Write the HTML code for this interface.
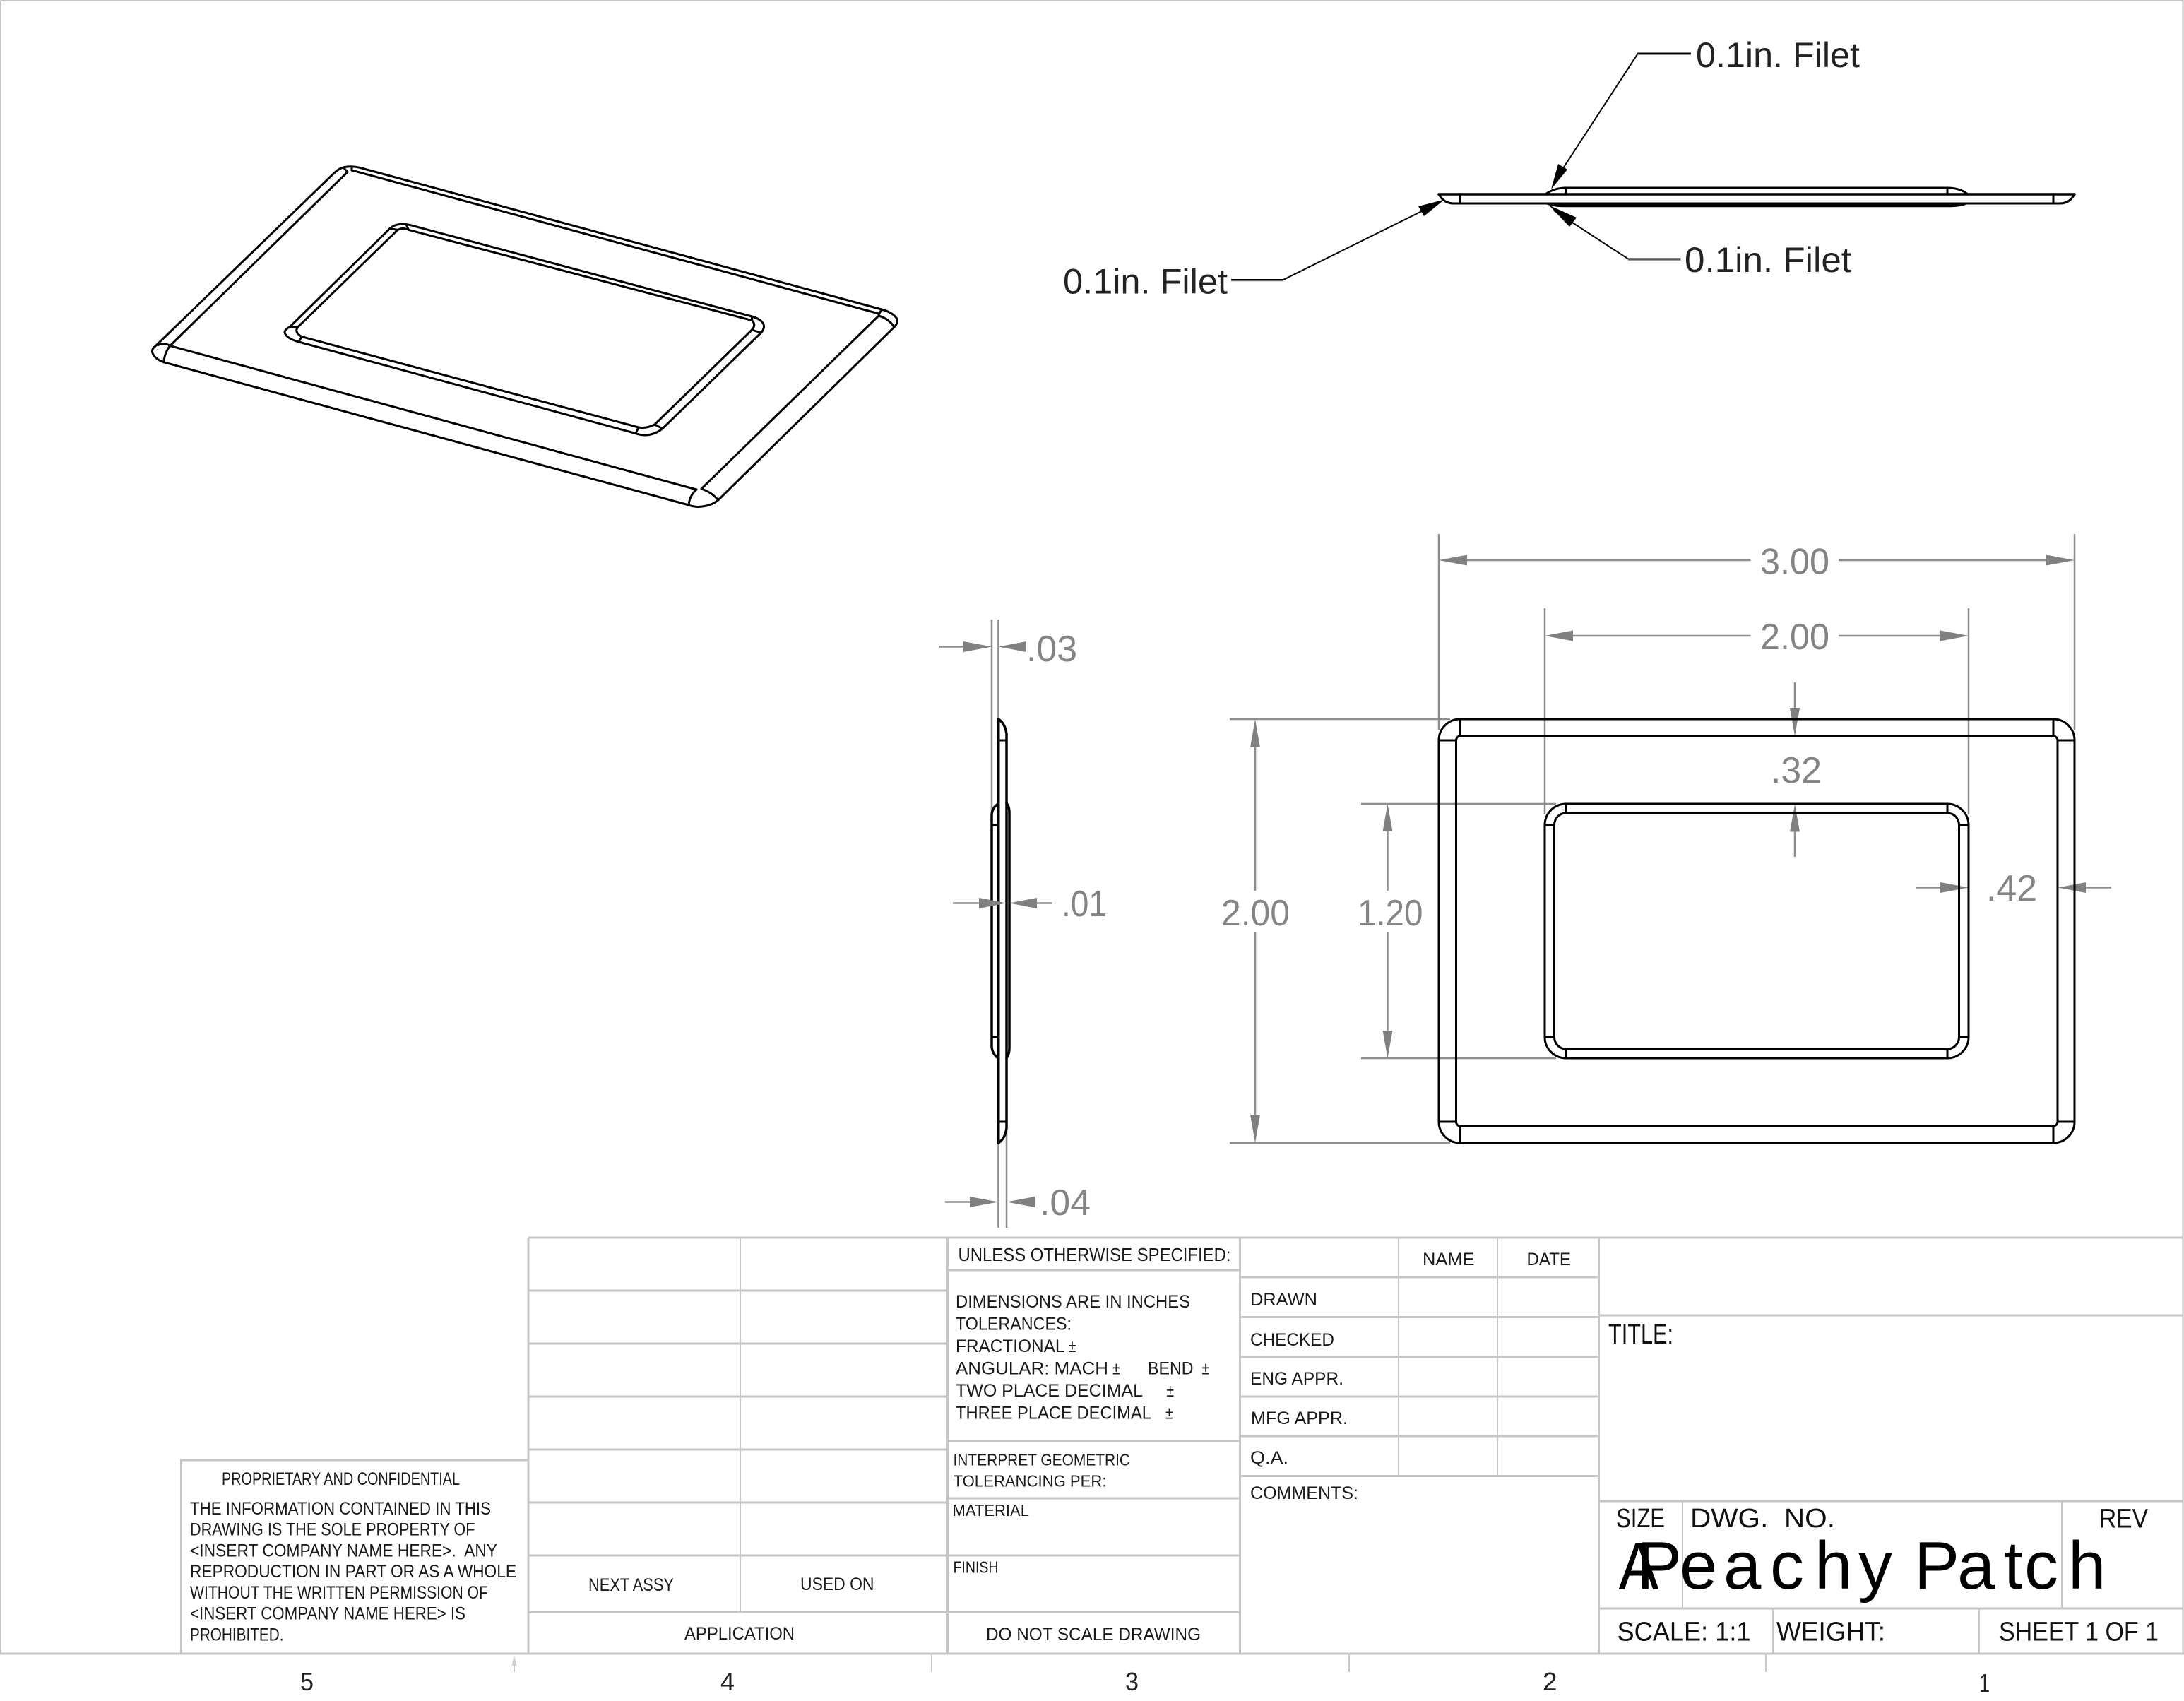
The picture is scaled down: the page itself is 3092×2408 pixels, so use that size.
<!DOCTYPE html>
<html><head><meta charset="utf-8"><title>Peachy Patch</title>
<style>
html,body{margin:0;padding:0;background:#fff}
svg{display:block}
text{font-family:"Liberation Sans",sans-serif}
.g{fill:#848484;font-size:52px}
.l{fill:#222;font-size:50px}
.t{fill:#1a1a1a;font-size:25px}
.m{fill:#111;font-size:38px}
.z{fill:#222;font-size:36px}
.b{stroke:#000;fill:none;stroke-width:3;stroke-linejoin:round;stroke-linecap:round}
.d{stroke:#8e8e8e;fill:none;stroke-width:2.5}
.a{fill:#808080}
.f{stroke:#c6c6c6;fill:none;stroke-width:3}
.f2{stroke:#c6c6c6;fill:none;stroke-width:2}
.k{stroke:#000;fill:none;stroke-width:2}
</style></head><body>
<svg xmlns="http://www.w3.org/2000/svg" width="3092" height="2408" viewBox="0 0 3092 2408">
<rect width="3092" height="2408" fill="#fff"/>

<!-- sheet frame -->
<path class="f2" d="M1,2341V1H3090.5V2341"/>
<path class="f" d="M0,2341H3092"/>
<path class="f2" d="M1319,2341V2367M1910,2341V2367M2500,2341V2367M728,2350V2367"/>
<polygon points="728,2343 724.5,2358 731.5,2358" fill="#cfcfcf"/>

<!-- title block lines -->
<path class="f" d="M748,1752H3090.5M748,1752V2341M1341.5,1752V2341M1755.5,1752V2341M2263.5,1752V2341"/>
<path class="f2" d="M1048,1752V2282M1980,1752V2089M2120,1752V2089"/>
<path class="f" d="M748,1827H1341.5M748,1902H1341.5M748,1977H1341.5M748,2052H1341.5M748,2127H1341.5M748,2202H1341.5M748,2282.5H1755.5"/>
<path class="f" d="M1341.5,1798H1755.5M1341.5,2040H1755.5M1341.5,2121H1755.5M1341.5,2202H1755.5"/>
<path class="f" d="M1755.5,1808H2263.5M1755.5,1864.5H2263.5M1755.5,1921H2263.5M1755.5,1977H2263.5M1755.5,2033H2263.5M1755.5,2089.5H2263.5"/>
<path class="f" d="M2263.5,1862H3090.5M2263.5,2125H3090.5M2263.5,2277H3090.5"/>
<path class="f2" d="M2382,2125V2277M2919,2125V2277M2510,2277V2341M2802,2277V2341"/>
<path class="f" d="M256.5,2341V2067H748"/>

<!-- isometric view -->
<g class="b" style="stroke-width:3">
<path d="M510,237.5L1248,438Q1263,442 1269,450Q1273,456 1266,463L1016.7,708Q1006,717 988,717.5Q980,717 975,715L231.7,512.7Q219,508 216,500Q214,494 220,490L473,245Q480,238 488,236.5Q498,234.5 510,237.5Z"/>
<path d="M240.7,489.5L492,243.5"/>
<path d="M498,241L1244,444"/>
<path d="M240.7,489.5L986,693"/>
<path d="M993,692L1244,447"/>
<path d="M224,488.5Q232,484 240.7,489.5Q233,499 231.7,512.7"/>
<path d="M986,693Q976,702 975,715"/>
<path d="M993,692Q1008,697 1016.7,708"/>
<path d="M1244,447Q1258,451 1266,463"/>
<path d="M1244,446L1248,438"/>
<path d="M487,238L492,243.5M498,236L498,241"/>
<!-- pocket -->
<path d="M586,320L1064.5,448Q1078,452 1081,459Q1083,465 1077.5,471L938,606.7Q928,615 915,616Q906,616 900,613.6L423,484Q409,480 404.5,474Q400,468 410,463L552,323.5Q558,318 566,317.5Q575,316.5 586,320Z"/>
<path d="M421.7,463L563,325.4"/>
<path d="M578.6,325.4L1064.5,453.6"/>
<path d="M427,476.6L904,605"/>
<path d="M926.8,601L1064.5,467"/>
<path d="M563,325.4Q570,321.5 578.6,325.4"/>
<path d="M421.7,463Q416,470 427,476.6"/>
<path d="M904,605Q915,607 926.8,601"/>
<path d="M1064.5,467Q1071,460 1064.5,453.6"/>
<path d="M410,463L421.7,463M423,484L427,476.6M900,613.6L904,605M926.8,601L938,606.7M1064.5,467L1077.5,471M1064.5,448V453.6M552,323.5L563,325.4M575,318L578.6,325.4"/>
</g>

<!-- top view -->
<g class="b">
<path d="M2037,275H2937" style="stroke-width:3.5"/>
<path d="M2037,275Q2044,288 2058,288H2916Q2930,288 2937,275"/>
<path d="M2067,275V288M2907,275V288"/>
<path d="M2188,275Q2200,266 2217,266H2757Q2775,266 2786,275"/>
<path d="M2217,266V275M2757,266V275"/>
</g>
<path d="M2188,288Q2200,292.5 2212,292.5H2762Q2776,292.5 2786,288Z" fill="#000" stroke="#000" stroke-width="1.5"/>

<!-- top-view leaders -->
<path class="k" d="M2394,75.5H2319L2200,258"/>
<polygon points="2196,268 2206,232 2219,240" fill="#000"/>
<path class="k" d="M2379.5,366.5H2305L2200,298"/>
<polygon points="2193,290.5 2232,308 2222,321" fill="#000"/>
<path class="k" d="M1743,396H1817L2035,288"/>
<polygon points="2045,282.5 2016,306 2008,292" fill="#000"/>
<g style="stroke:#777;stroke-width:1.5;fill:none"><path d="M2394,77H2319M2379.5,368H2305M1743,397.5H1817"/></g>
<text class="l" x="2401" y="95" textLength="232" lengthAdjust="spacingAndGlyphs">0.1in. Filet</text>
<text class="l" x="2385" y="385" textLength="236" lengthAdjust="spacingAndGlyphs">0.1in. Filet</text>
<text class="l" x="1505" y="415.5" textLength="233" lengthAdjust="spacingAndGlyphs">0.1in. Filet</text>

<!-- side view -->
<path class="d" d="M1404,877V1150M1413.4,877V1018M1413.4,1618V1738M1425,1600V1738"/>
<g class="b">
<path d="M1413.5,1018Q1423,1024 1425,1039V1597Q1423,1612 1413.5,1618" style="stroke-width:3.5"/>
<path d="M1413.5,1018V1618" style="stroke-width:4"/>
<path d="M1413.5,1048H1425M1413.5,1588H1425M1404,1168H1413.5M1404,1468H1413.5"/>
<path d="M1413,1138Q1405,1143 1404,1153V1482Q1405,1492 1413,1498" style="stroke-width:3.5"/>
<path d="M1425,1137Q1429,1142 1429,1150V1484Q1429,1492 1425,1498" style="stroke-width:3.5"/>
</g>
<path class="d" d="M1329,915.5H1364M1349,1278.5H1386M1468,1278.5H1490M1338,1701.5H1373"/>
<polygon class="a" points="1404,915.5 1364,908 1364,923"/>
<polygon class="a" points="1413.5,915.5 1453,908 1453,923"/>
<polygon class="a" points="1425,1278.5 1386,1271 1386,1286"/>
<polygon class="a" points="1429,1278.5 1468,1271 1468,1286"/>
<polygon class="a" points="1413.5,1701.5 1373,1694 1373,1709"/>
<polygon class="a" points="1425,1701.5 1465,1694 1465,1709"/>
<text class="g" x="1453" y="936" textLength="72" lengthAdjust="spacingAndGlyphs">.03</text>
<text class="g" x="1503" y="1297" textLength="64" lengthAdjust="spacingAndGlyphs">.01</text>
<text class="g" x="1472" y="1720" textLength="72" lengthAdjust="spacingAndGlyphs">.04</text>

<!-- front view dimensions -->
<path class="d" d="M2037,756V1033M2937,756V1033M2187,861V1153M2787,861V1153M1741,1018H2053M1741,1618H2053M1927,1138H2203M1927,1498H2203"/>
<path class="d" d="M2077,793H2478.5M2603,793H2897M2227,900H2478.5M2603,900H2747M2541,966V1002M2541,1177V1213M2712,1256.5H2747M2953,1256.5H2989M1777,1058V1261M1777,1320V1578M1964.5,1177V1261M1964.5,1320V1459"/>
<polygon class="a" points="2037,793 2077,785.5 2077,800.5"/>
<polygon class="a" points="2937,793 2897,785.5 2897,800.5"/>
<polygon class="a" points="2187,900 2227,892.5 2227,907.5"/>
<polygon class="a" points="2787,900 2747,892.5 2747,907.5"/>
<polygon class="a" points="2541,1042 2534,1002 2548,1002"/>
<polygon class="a" points="2541,1138.5 2534,1177.5 2548,1177.5"/>
<polygon class="a" points="2787,1256.5 2747,1249 2747,1264"/>
<polygon class="a" points="2913.5,1256.5 2953,1249 2953,1264"/>
<polygon class="a" points="1777,1018 1770,1058 1784,1058"/>
<polygon class="a" points="1777,1618 1770,1578 1784,1578"/>
<polygon class="a" points="1964.5,1138 1957.5,1177 1971.5,1177"/>
<polygon class="a" points="1964.5,1498 1957.5,1459 1971.5,1459"/>
<text class="g" x="2492" y="812.5" textLength="98" lengthAdjust="spacingAndGlyphs">3.00</text>
<text class="g" x="2492" y="919" textLength="98" lengthAdjust="spacingAndGlyphs">2.00</text>
<text class="g" x="2507" y="1108" textLength="72" lengthAdjust="spacingAndGlyphs">.32</text>
<text class="g" x="2812" y="1275" textLength="72" lengthAdjust="spacingAndGlyphs">.42</text>
<text class="g" x="1729" y="1310" textLength="97" lengthAdjust="spacingAndGlyphs">2.00</text>
<text class="g" x="1922" y="1310" textLength="92.5" lengthAdjust="spacingAndGlyphs">1.20</text>

<!-- front view -->
<g class="b">
<path d="M2037,1048A30,30 0 0 1 2067,1018H2907A30,30 0 0 1 2937,1048V1588A30,30 0 0 1 2907,1618H2067A30,30 0 0 1 2037,1588Z"/>
<path d="M2061.5,1048A5.5,6 0 0 1 2067,1042H2907A6,6 0 0 1 2913,1048V1588A6,6 0 0 1 2907,1594H2067A5.5,6 0 0 1 2061.5,1588Z"/>
<path d="M2067,1018V1042M2907,1018V1042M2067,1594V1618M2907,1594V1618M2037,1048H2061.5M2913,1048H2937M2037,1588H2061.5M2913,1588H2937"/>
<path d="M2187,1168A30,30 0 0 1 2217,1138H2757A30,30 0 0 1 2787,1168V1468A30,30 0 0 1 2757,1498H2217A30,30 0 0 1 2187,1468Z"/>
<path d="M2200.5,1168A16.5,17 0 0 1 2217,1151H2757A16.5,17 0 0 1 2773.5,1168V1468A16.5,17 0 0 1 2757,1485H2217A16.5,17 0 0 1 2200.5,1468Z"/>
<path d="M2217,1138V1151M2757,1138V1151M2217,1485V1498M2757,1485V1498M2187,1168H2200.5M2773.5,1168H2787M2187,1468H2200.5M2773.5,1468H2787"/>
</g>

<!-- proprietary box -->
<text class="t" x="314" y="2102" textLength="337" lengthAdjust="spacingAndGlyphs">PROPRIETARY AND CONFIDENTIAL</text>
<text class="t" x="269" y="2144" textLength="426" lengthAdjust="spacingAndGlyphs">THE INFORMATION CONTAINED IN THIS</text>
<text class="t" x="269" y="2173.5" textLength="403.5" lengthAdjust="spacingAndGlyphs">DRAWING IS THE SOLE PROPERTY OF</text>
<text class="t" x="269" y="2203.5" textLength="435" lengthAdjust="spacingAndGlyphs" xml:space="preserve">&lt;INSERT COMPANY NAME HERE&gt;.  ANY</text>
<text class="t" x="269" y="2233" textLength="462" lengthAdjust="spacingAndGlyphs">REPRODUCTION IN PART OR AS A WHOLE</text>
<text class="t" x="269" y="2263" textLength="422" lengthAdjust="spacingAndGlyphs">WITHOUT THE WRITTEN PERMISSION OF</text>
<text class="t" x="269" y="2292.5" textLength="390" lengthAdjust="spacingAndGlyphs">&lt;INSERT COMPANY NAME HERE&gt; IS</text>
<text class="t" x="269" y="2322.5" textLength="132.5" lengthAdjust="spacingAndGlyphs">PROHIBITED.</text>

<text class="t" x="833" y="2252" textLength="121" lengthAdjust="spacingAndGlyphs">NEXT ASSY</text>
<text class="t" x="1133" y="2251" textLength="104.5" lengthAdjust="spacingAndGlyphs">USED ON</text>
<text class="t" x="969" y="2321" textLength="156" lengthAdjust="spacingAndGlyphs">APPLICATION</text>

<!-- tolerance column -->
<text class="t" x="1356.5" y="1785" textLength="386" lengthAdjust="spacingAndGlyphs" style="font-size:26px">UNLESS OTHERWISE SPECIFIED:</text>
<text class="t" x="1353" y="1851" textLength="332" lengthAdjust="spacingAndGlyphs">DIMENSIONS ARE IN INCHES</text>
<text class="t" x="1353" y="1882.5" textLength="164" lengthAdjust="spacingAndGlyphs">TOLERANCES:</text>
<text class="t" x="1353" y="1914" textLength="154.5" lengthAdjust="spacingAndGlyphs">FRACTIONAL</text>
<text class="t" x="1512.5" y="1914" textLength="11" lengthAdjust="spacingAndGlyphs">±</text>
<text class="t" x="1353" y="1945.5" textLength="216" lengthAdjust="spacingAndGlyphs">ANGULAR: MACH</text>
<text class="t" x="1575" y="1945.5" textLength="10.5" lengthAdjust="spacingAndGlyphs">±</text>
<text class="t" x="1625" y="1945.5" textLength="64.5" lengthAdjust="spacingAndGlyphs">BEND</text>
<text class="t" x="1701.5" y="1945.5" textLength="11" lengthAdjust="spacingAndGlyphs">±</text>
<text class="t" x="1353" y="1977" textLength="265" lengthAdjust="spacingAndGlyphs">TWO PLACE DECIMAL</text>
<text class="t" x="1651.5" y="1977" textLength="10.5" lengthAdjust="spacingAndGlyphs">±</text>
<text class="t" x="1353" y="2008.5" textLength="277" lengthAdjust="spacingAndGlyphs">THREE PLACE DECIMAL</text>
<text class="t" x="1650" y="2008.5" textLength="10.5" lengthAdjust="spacingAndGlyphs">±</text>
<text class="t" x="1349.5" y="2074.5" textLength="250.5" lengthAdjust="spacingAndGlyphs" style="font-size:23px">INTERPRET GEOMETRIC</text>
<text class="t" x="1349.5" y="2104.5" textLength="217" lengthAdjust="spacingAndGlyphs" style="font-size:23px">TOLERANCING PER:</text>
<text class="t" x="1348.5" y="2146" textLength="108.5" lengthAdjust="spacingAndGlyphs" style="font-size:23px">MATERIAL</text>
<text class="t" x="1349.5" y="2226.5" textLength="64" lengthAdjust="spacingAndGlyphs" style="font-size:23px">FINISH</text>
<text class="t" x="1396" y="2322" textLength="304" lengthAdjust="spacingAndGlyphs">DO NOT SCALE DRAWING</text>

<!-- approvals -->
<text class="t" x="2014" y="1791" textLength="73.5" lengthAdjust="spacingAndGlyphs">NAME</text>
<text class="t" x="2161.5" y="1791" textLength="62.5" lengthAdjust="spacingAndGlyphs">DATE</text>
<text class="t" x="1770" y="1848" textLength="95" lengthAdjust="spacingAndGlyphs">DRAWN</text>
<text class="t" x="1770" y="1905" textLength="119" lengthAdjust="spacingAndGlyphs">CHECKED</text>
<text class="t" x="1770" y="1960" textLength="132" lengthAdjust="spacingAndGlyphs">ENG APPR.</text>
<text class="t" x="1771" y="2016" textLength="137" lengthAdjust="spacingAndGlyphs">MFG APPR.</text>
<text class="t" x="1770" y="2072" textLength="54" lengthAdjust="spacingAndGlyphs">Q.A.</text>
<text class="t" x="1770" y="2122" textLength="153" lengthAdjust="spacingAndGlyphs">COMMENTS:</text>

<!-- title area -->
<text class="m" x="2277" y="1902" textLength="92" lengthAdjust="spacingAndGlyphs" style="font-size:40px">TITLE:</text>
<text class="m" x="2288" y="2162" textLength="69" lengthAdjust="spacingAndGlyphs">SIZE</text>
<text class="m" x="2393" y="2162" textLength="205" lengthAdjust="spacingAndGlyphs" xml:space="preserve">DWG.  NO.</text>
<text class="m" x="2972" y="2162.5" textLength="69" lengthAdjust="spacingAndGlyphs">REV</text>
<text x="2291.5" y="2250" textLength="57" lengthAdjust="spacingAndGlyphs" style="font-size:96px;fill:#000">A</text>
<text x="2317 2378 2440 2506 2569 2631 2690 2710 2771 2837 2866 2928" y="2249" style="font-size:96px;fill:#000">Peachy Patch</text>
<text class="m" x="2289.5" y="2322.5" textLength="189" lengthAdjust="spacingAndGlyphs">SCALE: 1:1</text>
<text class="m" x="2515" y="2322.5" textLength="154" lengthAdjust="spacingAndGlyphs">WEIGHT:</text>
<text class="m" x="2830" y="2322.5" textLength="226" lengthAdjust="spacingAndGlyphs">SHEET 1 OF 1</text>

<!-- zone numbers -->
<text class="z" x="425" y="2393" textLength="19" lengthAdjust="spacingAndGlyphs">5</text>
<text class="z" x="1020" y="2393" textLength="20" lengthAdjust="spacingAndGlyphs">4</text>
<text class="z" x="1593" y="2393" textLength="19" lengthAdjust="spacingAndGlyphs">3</text>
<text class="z" x="2184" y="2393" textLength="20.5" lengthAdjust="spacingAndGlyphs">2</text>
<text class="z" x="2802" y="2395" textLength="15" lengthAdjust="spacingAndGlyphs">1</text>
</svg>
</body></html>
